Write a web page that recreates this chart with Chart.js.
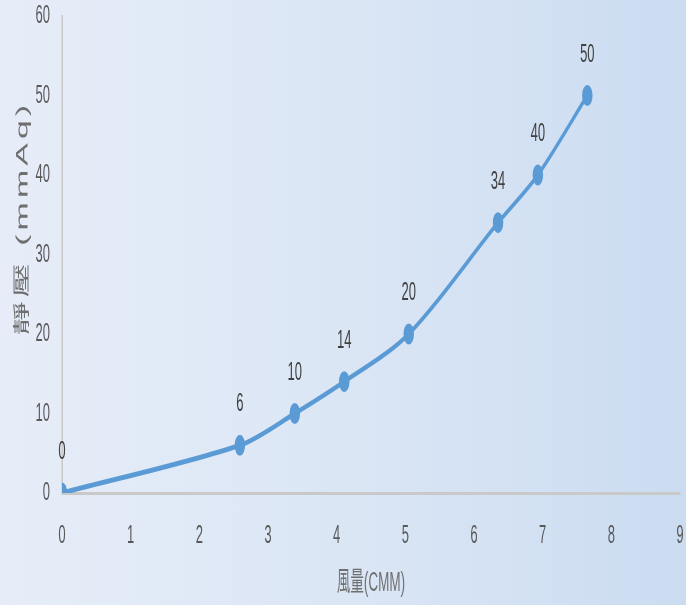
<!DOCTYPE html>
<html>
<head>
<meta charset="utf-8">
<script src="https://cdn.jsdelivr.net/npm/chart.js@4/dist/chart.umd.min.js"></script>
<style>
    html, body { margin: 0; padding: 0; overflow: hidden; }
    body {
        width: 686px; height: 605px;
        background: linear-gradient(to right, #e6edf8 0%, #dbe6f5 50%, #cbdcf1 100%);
    }
    /* la figure d'origine est compressée horizontalement : on dessine 2x plus large puis on resserre */
    #wrap { width: 1372px; height: 605px; transform: scaleX(0.5); transform-origin: 0 0; }
</style>
</head>
<body>
<div id="wrap"><canvas id="chart" width="1372" height="605"></canvas></div>
<script>
    "use strict";

    // données
    var flow = [0, 2.59, 3.39, 4.11, 5.05, 6.35, 6.93, 7.65];
    var pressure = [0, 6, 10, 14, 20, 34, 40, 50];
    var xTicks = [0, 1, 2, 3, 4, 5, 6, 7, 8, 9];
    var yTicks = [0, 10, 20, 30, 40, 50, 60];
    var xTitle = "風量(CMM)";
    var yTitle = "靜壓 (mmAq)";

    var points = flow.map(function (x, i) { return { x: x, y: pressure[i] }; });

    var blue = "#5b9bd5";
    var tickColor = "#595959";
    var axisColor = "#c9c9c9";

    // étiquettes de valeurs au-dessus des points + titres des axes
    var labelsPlugin = {
        id: "labelsPlugin",
        afterDatasetsDraw: function (chart) {
            var ctx = chart.ctx;
            var area = chart.chartArea;
            var meta = chart.getDatasetMeta(0);
            ctx.save();
            ctx.font = "26px 'Liberation Sans', sans-serif";
            ctx.fillStyle = "#404040";
            ctx.textAlign = "center";
            ctx.textBaseline = "middle";
            meta.data.forEach(function (pt, i) {
                ctx.fillText(String(pressure[i]), pt.x, pt.y - 41);
            });

            ctx.fillStyle = "#6f6f6f";
            ctx.font = "27px 'Liberation Sans', 'Noto Sans CJK TC', sans-serif";
            ctx.fillText(xTitle, (area.left + area.right) / 2, 584);

            ctx.translate(46, 218);
            ctx.rotate(-Math.PI / 2);
            ctx.font = "34px 'Liberation Sans', 'Noto Sans CJK TC', sans-serif";
            ctx.letterSpacing = "4px";
            ctx.fillText(yTitle, 0, 0);
            ctx.restore();
        }
    };

    new Chart(document.getElementById("chart").getContext("2d"), {
        type: "line",
        data: {
            datasets: [{
                data: points,
                borderColor: blue,
                backgroundColor: blue,
                borderWidth: 5,
                pointRadius: 10.5,
                pointBorderWidth: 0,
                pointBackgroundColor: blue,
                tension: 0.3,
                fill: false
            }]
        },
        options: {
            responsive: false,
            animation: false,
            layout: { padding: { top: 16, right: 12, left: 0, bottom: 0 } },
            plugins: {
                legend: { display: false },
                tooltip: { enabled: false }
            },
            scales: {
                x: {
                    type: "linear",
                    min: xTicks[0],
                    max: xTicks[xTicks.length - 1],
                    afterFit: function (s) { s.height = 112; s.paddingLeft = 0; s.paddingRight = 0; },
                    afterBuildTicks: function (s) { s.ticks = xTicks.map(function (v) { return { value: v }; }); },
                    grid: { display: false, drawTicks: false },
                    border: { display: true, color: axisColor, width: 3 },
                    ticks: {
                        padding: 27,
                        color: tickColor,
                        font: { family: "'Liberation Sans', sans-serif", size: 26 }
                    }
                },
                y: {
                    type: "linear",
                    min: yTicks[0],
                    max: yTicks[yTicks.length - 1],
                    afterFit: function (s) { s.width = 124; s.paddingTop = 0; s.paddingBottom = 0; },
                    afterBuildTicks: function (s) { s.ticks = yTicks.map(function (v) { return { value: v }; }); },
                    grid: { display: false, drawTicks: false },
                    border: { display: true, color: axisColor, width: 3 },
                    ticks: {
                        padding: 24,
                        color: tickColor,
                        font: { family: "'Liberation Sans', sans-serif", size: 26 }
                    }
                }
            }
        },
        plugins: [labelsPlugin]
    });
</script>
</body>
</html>
